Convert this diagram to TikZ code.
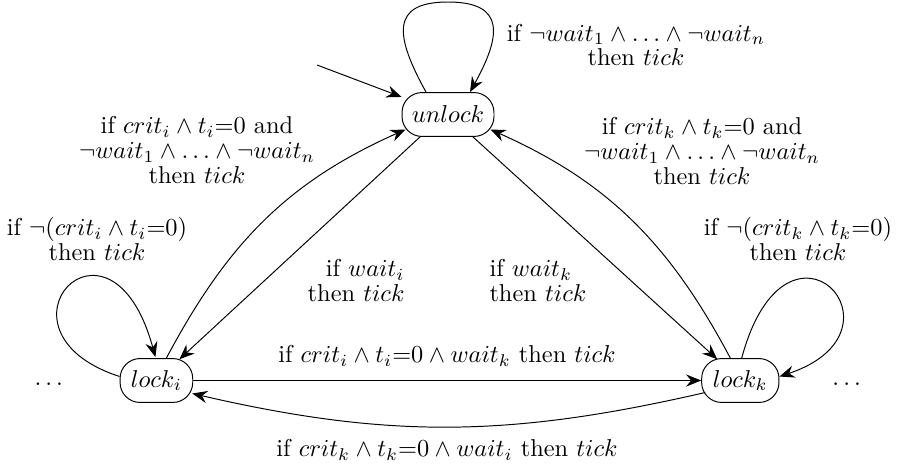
\documentclass[tikz,border=0pt]{standalone}
\usetikzlibrary{arrows.meta,calc}
\begin{document}
\begin{tikzpicture}[x=0.41pt,y=0.41pt,
  state/.style={draw, rounded corners=8.2pt, minimum height=18pt, inner xsep=4pt, inner ysep=2pt},
  lab/.style={align=center, inner sep=0pt, font=\fontsize{10}{10.2}\selectfont},
  >={Stealth[length=6.2pt,width=5pt,inset=2.1pt]}]
\useasboundingbox (0,0) rectangle (900,466);
\node[state, minimum width=37.7pt] (un) at (448,351.5) {$unlock$};
\node[state, minimum width=29.8pt] (li) at (156.4,85.5) {$lock_i$};
\node[state, minimum width=31.7pt] (lk) at (740.3,85.5) {$lock_k$};
\coordinate (init) at (317,401);
\draw[->] (init) -- (un);
% unlock loop
\draw[->] ($(un.north)+(-22,0)$) .. controls (395,430) and (390,464) .. (448,464)
  .. controls (506,464) and (501,430) .. ($(un.north)+(22,0)$);
% curved to unlock
\draw[->] ($(li.north)+(10,0)$) to[out=62,in=204] ($(un.west)+(4,-15)$);
\draw[->] ($(lk.north)+(-10,0)$) to[out=118,in=-24] ($(un.east)+(-4,-15)$);
% straight from unlock
\draw[->] ($(un.south)+(-28,0)$) -- ($(li.north)+(23,-1.2)$);
\draw[->] ($(un.south)+(25,0)$) -- ($(lk.north)+(-23,-1.2)$);
% bottom pair
\draw[->] (li.east) -- (lk.west);
\draw[->] ($(lk.west)+(4,-12)$) to[out=193,in=-13] ($(li.east)+(-1,-13)$);
% self loops
\draw[->] ($(li.west)+(0,4)$) .. controls (-20,135) and (110,275) .. ($(li.north)+(-1,1)$);
\draw[->] ($(lk.north)+(1.4,0)$) .. controls (786.7,275) and (916.7,135) .. ($(lk.east)+(0,4)$);
% labels
\node[lab] (l1) at (636,421) {if $\neg wait_1 \wedge \ldots \wedge \neg wait_n$\\ then $tick$};
\node[lab] (l2) at (197,316) {if $crit_i \wedge t_i{=}0$ and\\ $\neg wait_1 \wedge \ldots \wedge \neg wait_n$\\ then $tick$};
\node[lab] (l3) at (702,315) {if $crit_k \wedge t_k{=}0$ and\\ $\neg wait_1 \wedge \ldots \wedge \neg wait_n$\\ then $tick$};
\node[lab] (l4) at (97,227) {if $\neg(crit_i \wedge t_i{=}0)$\\ then $tick$};
\node[lab] (l5) at (798,227) {if $\neg(crit_k \wedge t_k{=}0)$\\ then $tick$};
\node[lab, align=right, anchor=east] (l6) at (405,185.5) {if $wait_i$\\ then $tick$};
\node[lab, align=left, anchor=west] (l7) at (489,185.5) {if $wait_k$\\ then $tick$};
\node[lab] (l8) at (447,110) {if $crit_i \wedge t_i{=}0 \wedge wait_k$ then $tick$};
\node[lab] (l9) at (447,16) {if $crit_k \wedge t_k{=}0 \wedge wait_i$ then $tick$};
\node (d1) at (48.8,82) {$\ldots$};
\node (d2) at (846.7,82) {$\ldots$};
\end{tikzpicture}
\end{document}
